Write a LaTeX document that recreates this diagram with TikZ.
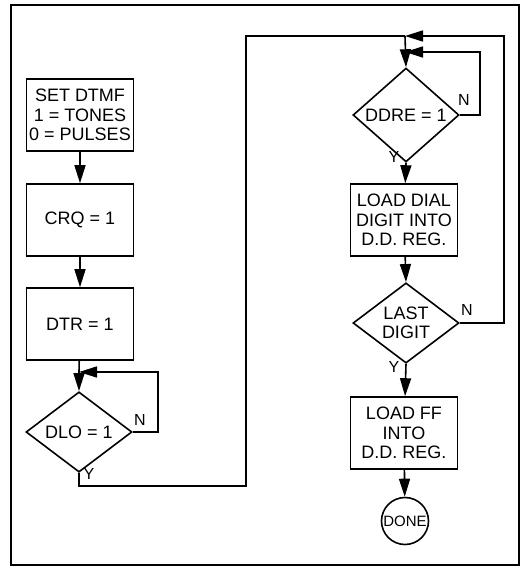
\documentclass[tikz,border=0pt]{standalone}
\usepackage{fontspec}
\setmainfont{Liberation Sans}
\usetikzlibrary{shapes.geometric,arrows.meta}

\tikzset{
  box/.style={draw, line width=1.6pt, minimum width=107pt, minimum height=72pt,
    align=center, inner sep=0pt},
  decision/.style={draw, diamond, line width=1.6pt, minimum width=106pt,
    minimum height=70pt, align=center, inner sep=0pt},
  flow/.style={line width=1.6pt, -{Triangle[length=18pt,width=11pt]}},
  link/.style={line width=1.6pt},
  tag/.style={font=\fontsize{16}{18}\selectfont, inner sep=0pt},
}

\begin{document}
\begin{tikzpicture}[x=1pt,y=-1pt,font=\fontsize{18}{19.5}\selectfont]
\useasboundingbox (0,0) rectangle (524,574);
\draw[line width=1.4pt] (11,5) rectangle (519,565);

  \node[box] (set) at (80,115) {SET DTMF\\1 = TONES\\0 = PULSES};
  \node[box] (crq) at (80,220) {CRQ = 1};
  \node[box] (dtr) at (80,324) {DTR = 1};
  \coordinate (j1) at (79,372);
  \node[decision] (dlo) at (79,432) {DLO = 1};

  \coordinate (j2) at (405,36);
  \coordinate (j3) at (405,52);
  \node[decision] (ddre) at (406,115) {DDRE = 1};
  \node[box] (dial) at (404,220) {LOAD DIAL\\DIGIT INTO\\D.D. REG.};
  \node[decision] (last) at (406,323) {LAST\\DIGIT};
  \node[box] (ff) at (404,433) {LOAD FF\\INTO\\D.D. REG.};
  \node[draw, circle, line width=1.6pt, minimum size=47pt, inner sep=0pt,
    font=\fontsize{15}{17}\selectfont] (done) at (405,521) {DONE};

  % labels
  \node[tag] (n1) at (140,420) {N};
  \node[tag] (y1) at (89,474) {Y};
  \node[tag] (n2) at (464,100) {N};
  \node[tag] (y2) at (394,157) {Y};
  \node[tag] (n3) at (467,310) {N};
  \node[tag] (y3) at (394,367) {Y};

  \draw[flow] (set) -- (crq);
  \draw[flow] (crq) -- (dtr);
  \draw[link] (dtr) -- (j1);
  \draw[flow] (j1) -- (dlo.north);
  \draw[flow] (dlo.east) -- ++(25,0) |- (j1);
  \draw[link] (dlo.south) |- (246,486) |- (j2);

  \draw[flow] (last.east) -- ++(44,0) |- (j2);
  \draw[flow] (j2) -- (ddre.north);
  \draw[flow] (ddre.east) -- ++(20,0) |- (j3);
  \draw[flow] (ddre.south) -- (dial);
  \draw[flow] (dial) -- (last.north);
  \draw[flow] (last.south) -- (ff);
  \draw[flow] (ff) -- (done);
\end{tikzpicture}
\end{document}
